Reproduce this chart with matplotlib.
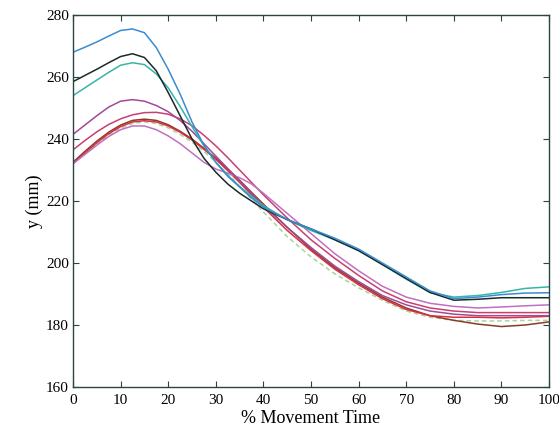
import matplotlib
matplotlib.use("Agg")
import matplotlib.pyplot as plt

pct = [0, 2.5, 5, 7.5, 10, 12.5, 15, 17.5, 20, 22.5, 25, 27.5, 30, 32.5, 35, 37.5, 40,
       45, 50, 55, 60, 65, 70, 75, 80, 85, 90, 95, 100]

blue = [268, 269.6, 271.3, 273.2, 275, 275.5, 274.3, 269.5, 262.5, 254.5, 245.5, 238, 232.5, 228, 224.5, 221, 218,
        214, 211, 208, 204.5, 200, 195.5, 191, 188.5, 189, 189.8, 190.3, 190.4]
black = [258.5, 260.5, 262.5, 264.6, 266.6, 267.5, 266.3, 262, 255, 247.5, 240, 233.8, 229.3, 225.5, 222.5, 220, 217.5,
         214, 211, 207.5, 204, 199.5, 195, 190.5, 188, 188.3, 188.8, 188.8, 188.8]
teal = [254, 256.5, 259, 261.5, 263.8, 264.6, 264, 261, 256.5, 250.5, 244, 237.8, 232.5, 228.3, 224.7, 221.5, 218.5,
        214, 210.5, 207.5, 204, 199.5, 194.8, 190.5, 189, 189.5, 190.5, 191.8, 192.3]
purple_hi = [241.5, 244.5, 247.5, 250.3, 252.2, 252.7, 252.2, 250.8, 248.8, 246, 242.5, 238.5, 234.5, 230.5, 226.5, 222.5, 218.5,
             211.5, 205, 199, 194, 189.5, 186.5, 184.5, 183.5, 183, 183, 183, 183]
pink = [236.5, 239.5, 242.3, 244.7, 246.5, 247.8, 248.5, 248.6, 248, 246.5, 244.3, 241.2, 237.8, 234, 230, 226, 222,
        214.5, 207.5, 201.5, 196, 191, 187.5, 185.5, 184.5, 184, 184, 184, 184]
brown = [232.5, 236, 239.3, 242.2, 244.5, 246, 246.4, 246, 244.6, 242.5, 240, 237, 233.8, 230.3, 226.7, 222.8, 219,
         211.5, 204.5, 198.5, 193.5, 189, 185.5, 183, 181.5, 180.3, 179.5, 180, 181]
red = [232, 235.5, 238.8, 241.7, 244, 245.5, 245.9, 245.5, 244.2, 242.2, 239.7, 236.7, 233.5, 229.8, 226, 222, 218,
       210.5, 204, 198, 193, 188.5, 185, 183, 182.5, 182.5, 182.3, 182.5, 182.8]
green = [232, 235.3, 238.5, 241.3, 243.5, 245, 245.5, 245, 243.6, 241.5, 239, 236, 232.5, 228.8, 224.8, 220.6, 216.5,
         208.5, 202, 196.5, 192, 188, 184.5, 182.5, 181.5, 181.3, 181.3, 181.5, 181.5]
purple_lo = [232, 235, 238, 240.8, 243, 244.2, 244.2, 243, 241, 238.5, 235.5, 232.5, 230.3, 229, 227.5, 225.5, 222.5,
             216, 209.5, 203, 197.5, 192.5, 189, 187, 186, 185.5, 185.8, 186.2, 186.5]

series = [
    (green, "#a8d4a0", (0, (3, 2))),
    (brown, "#8a3a28", "-"),
    (red, "#d83040", "-"),
    (pink, "#c84070", "-"),
    (purple_lo, "#c070c0", "-"),
    (purple_hi, "#a04a98", "-"),
    (teal, "#38b4a8", "-"),
    (black, "#1a2a2a", "-"),
    (blue, "#3a8cd0", "-"),
]

plt.rcParams['font.family'] = ['Liberation Serif', 'DejaVu Serif']

fig = plt.figure(figsize=(5.59, 4.34), dpi=100)
ax = fig.add_axes([73/559, 1-387/434, (549-73)/559, (387-15)/434])

for vals, col, ls in series:
    ax.plot(pct, vals, color=col, lw=1.1, ls=ls)

ax.set_xlim(0, 100)
ax.set_ylim(160, 280)
ax.set_xticks(range(0, 101, 10))
ax.set_yticks(range(160, 281, 20))
ax.tick_params(direction='in', top=True, right=True, labelsize=11, length=4, color='#2a4444')
ax.tick_params(axis='x', pad=5)
ax.tick_params(axis='y', pad=3)
for sp in ax.spines.values():
    sp.set_color('#2a4444')
    sp.set_linewidth(1.0)
ax.set_xlabel('% Movement Time', fontsize=13, labelpad=2)
ax.set_ylabel('y (mm)', fontsize=13, labelpad=2)

fig.savefig('out.png', dpi=100)
